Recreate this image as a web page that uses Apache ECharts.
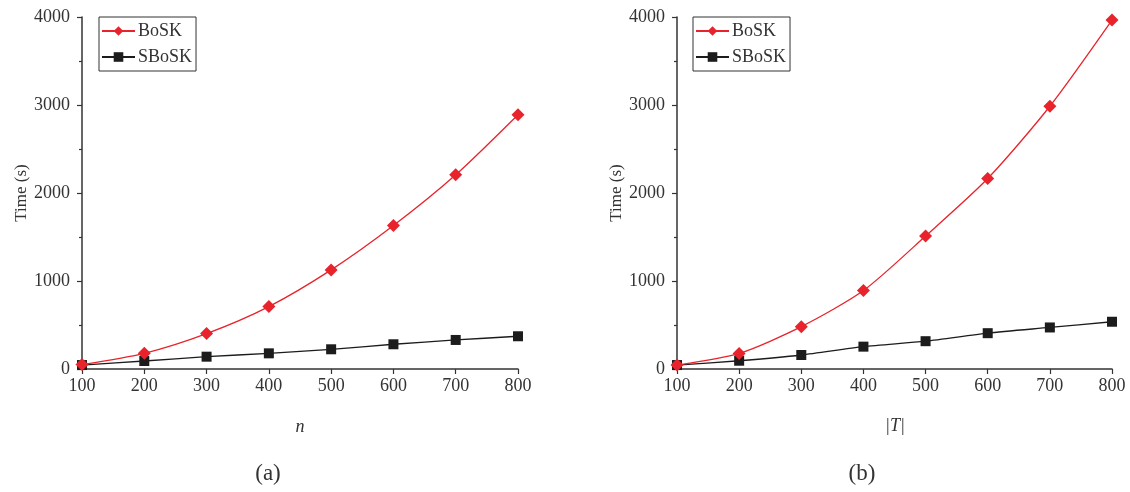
<!DOCTYPE html>
<html>
<head>
<meta charset="utf-8">
<script src="https://cdn.jsdelivr.net/npm/echarts@6/dist/echarts.min.js"></script>
<style>html,body{margin:0;padding:0;background:#fff;}#c{width:1130px;height:492px;}</style>
</head>
<body>
<div id="c"></div>
<script>
const xValues = [100, 200, 300, 400, 500, 600, 700, 800];
const bosk_n = [50, 178, 402, 709, 1126, 1630, 2207, 2890];
const sbosk_n = [45, 91, 140, 178, 224, 281, 330, 372];
const bosk_T = [45, 177, 481, 891, 1511, 2164, 2986, 3965];
const sbosk_T = [45, 94, 159, 254, 316, 407, 472, 537];
const yTicks = [0, 1000, 2000, 3000, 4000];

const FONT = '"Liberation Serif", "DejaVu Serif", serif';
const AX = '#333';
const RED = '#e8232b';
const BLK = '#1c1c1c';

function pairs(ys) { return xValues.map((x, i) => [x, ys[i]]); }

function xAxis(idx) {
  return {
    gridIndex: idx, type: 'value', min: 100, max: 800, interval: 100,
    axisLine: { show: true, onZero: false, lineStyle: { color: AX, width: 1.5 } },
    axisTick: { show: true, inside: false, length: 5, lineStyle: { color: AX, width: 1.2 } },
    axisLabel: { fontFamily: FONT, fontSize: 18, color: AX, margin: 8 },
    splitLine: { show: false }
  };
}
function yAxis(idx) {
  return {
    gridIndex: idx, type: 'value', min: yTicks[0], max: yTicks[yTicks.length - 1], interval: 1000,
    name: 'Time (s)', nameLocation: 'middle', nameGap: 52,
    nameTextStyle: { fontFamily: FONT, fontSize: 17, color: AX },
    axisLine: { show: true, lineStyle: { color: AX, width: 1.5 } },
    axisTick: { show: true, inside: false, length: 5, lineStyle: { color: AX, width: 1.2 } },
    minorTick: { show: true, splitNumber: 2, length: 3, lineStyle: { color: AX, width: 1.2 } },
    axisLabel: { fontFamily: FONT, fontSize: 18, color: AX, margin: 12, formatter: v => String(v) },
    splitLine: { show: false }
  };
}
function seriesPair(idx, bosk, sbosk) {
  return [
    { name: 'BoSK', type: 'line', xAxisIndex: idx, yAxisIndex: idx, data: pairs(bosk),
      smooth: 0.25, symbol: 'diamond', symbolSize: 13,
      lineStyle: { color: RED, width: 1.3 }, itemStyle: { color: RED }, z: 3 },
    { name: 'SBoSK', type: 'line', xAxisIndex: idx, yAxisIndex: idx, data: pairs(sbosk),
      smooth: 0.25, symbol: 'rect', symbolSize: 10,
      lineStyle: { color: BLK, width: 1.3 }, itemStyle: { color: BLK }, z: 2 }
  ];
}
function legend(left) {
  return {
    left: left, top: 17, orient: 'vertical', itemGap: 8, itemWidth: 33, itemHeight: 12,
    padding: [5, 4, 5, 2], borderColor: AX, borderWidth: 1, borderRadius: 0,
    textStyle: { fontFamily: FONT, fontSize: 18, color: AX, padding: [0, 0, 0, -2] },
    data: ['BoSK', 'SBoSK'], selectedMode: false
  };
}

const chart = echarts.init(document.getElementById('c'));
chart.setOption({
  backgroundColor: '#fff',
  animation: false,
  grid: [
    { left: 82, right: 612, top: 17, bottom: 123 },
    { left: 677, right: 18, top: 17, bottom: 123 }
  ],
  xAxis: [xAxis(0), xAxis(1)],
  yAxis: [yAxis(0), yAxis(1)],
  legend: [legend(99), legend(693)],
  series: [...seriesPair(0, bosk_n, sbosk_n), ...seriesPair(1, bosk_T, sbosk_T)],
  graphic: [
    { type: 'text', x: 300, y: 427, style: { text: 'n', font: 'italic 18px ' + FONT, fill: AX, align: 'center', verticalAlign: 'middle' } },
    { type: 'text', x: 895, y: 426, style: { text: '|T|', font: 'italic 18px ' + FONT, fill: AX, align: 'center', verticalAlign: 'middle' } },
    { type: 'text', x: 268, y: 474, style: { text: '(a)', font: '23px ' + FONT, fill: AX, align: 'center', verticalAlign: 'middle' } },
    { type: 'text', x: 862, y: 474, style: { text: '(b)', font: '23px ' + FONT, fill: AX, align: 'center', verticalAlign: 'middle' } }
  ]
});
</script>
</body>
</html>
